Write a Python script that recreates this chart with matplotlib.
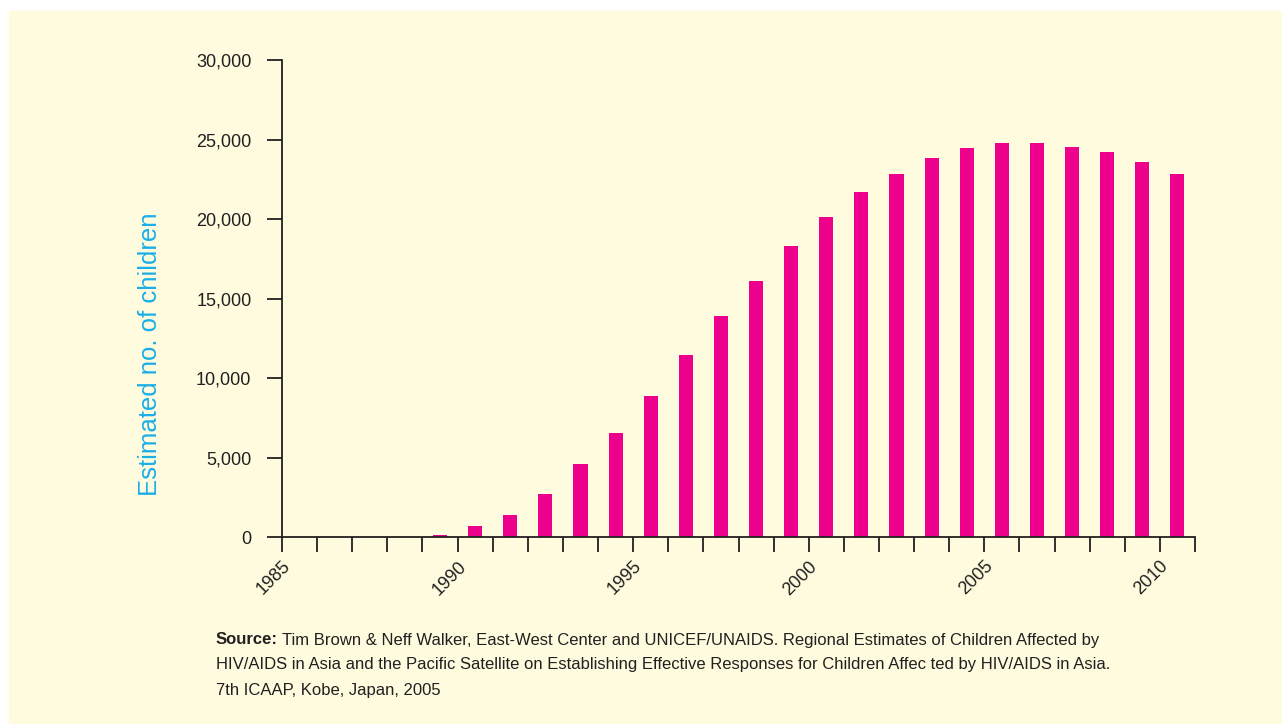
import matplotlib.pyplot as plt
from matplotlib.ticker import FuncFormatter
from matplotlib.transforms import offset_copy

years = list(range(1985, 2011))
children = [0, 0, 0, 0, 150, 700, 1400, 2700, 4600, 6550,
            8850, 11450, 13900, 16100, 18300, 20150, 21700, 22850, 23850, 24450,
            24750, 24750, 24550, 24200, 23600, 22850]
tick_years = [1985, 1990, 1995, 2000, 2005, 2010]

bg = "#fffbde"
pink = "#ec008c"
cyan = "#1aaee8"
dark = "#231f20"

plt.rcParams['font.family'] = ['Liberation Sans', 'DejaVu Sans']

fig = plt.figure(figsize=(12.82, 7.24), dpi=100)
fig.patch.set_facecolor("white")
# cream panel with a thin white margin on top/left
fig.patches.append(plt.Rectangle((9 / 1282, 0), 1, 1 - 11 / 724,
                                 transform=fig.transFigure, color=bg, zorder=-1))

ax = fig.add_axes([282 / 1282, (724 - 537) / 724, (1195 - 282) / 1282, (537 - 60) / 724])
ax.set_facecolor(bg)

ax.bar([y + 0.5 for y in years], children, width=0.4, color=pink, zorder=2)

ax.set_xlim(1985, 2011)
ax.set_ylim(0, 30000)
ax.set_xticks(range(1985, 2012))
ax.set_xticklabels([str(y) if y in tick_years else "" for y in range(1985, 2012)],
                   rotation=45, ha="right", rotation_mode="anchor", fontsize=13, color=dark)
ax.set_yticks(range(0, 30001, 5000))
ax.yaxis.set_major_formatter(FuncFormatter(lambda v, p: f"{int(v):,}"))
ax.tick_params(axis="both", direction="out", length=11, width=1.3, color=dark,
               labelsize=13, labelcolor=dark)
ax.tick_params(axis="y", pad=11)
ax.tick_params(axis="x", pad=4)

for s in ["top", "right"]:
    ax.spines[s].set_visible(False)
for s in ["left", "bottom"]:
    ax.spines[s].set_color(dark)
    ax.spines[s].set_linewidth(1.3)

ax.set_ylabel("Estimated no. of children", color=cyan, fontsize=18.5)
ax.yaxis.set_label_coords(-0.131, 0.384)

y1 = 1 - 640 / 724
src = fig.text(216 / 1282, y1, "Source:", fontsize=12, weight="bold",
               color=dark, va="center")
fig.canvas.draw()
w = src.get_window_extent().width
fig.text(216 / 1282, y1,
         "Tim Brown & Neff Walker, East-West Center and UNICEF/UNAIDS. Regional Estimates of Children Affected by",
         fontsize=12, color=dark, va="center",
         transform=offset_copy(fig.transFigure, fig=fig, x=w + 4, units="dots"))
fig.text(216 / 1282, 1 - 665 / 724,
         "HIV/AIDS in Asia and the Pacific Satellite on Establishing Effective Responses for Children Affec ted by HIV/AIDS in Asia.",
         fontsize=12, color=dark, va="center")
fig.text(216 / 1282, 1 - 690 / 724, "7th ICAAP, Kobe, Japan, 2005",
         fontsize=12, color=dark, va="center")

fig.savefig("out.png", dpi=100, facecolor=fig.get_facecolor())
